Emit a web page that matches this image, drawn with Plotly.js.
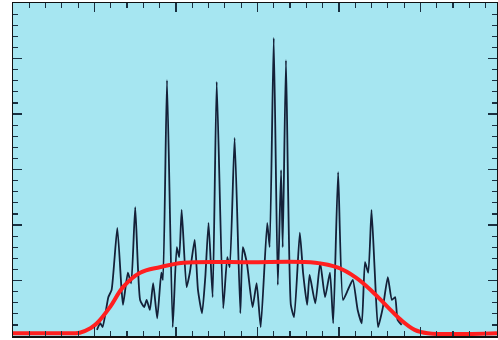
<!DOCTYPE html>
<html>
<head>
<meta charset="utf-8">
<script src="https://cdn.plot.ly/plotly-3.0.1.min.js"></script>
<style>html,body{margin:0;padding:0;background:#fff;}#chart{width:498px;height:340px;}</style>
</head>
<body>
<div id="chart"></div>
<script>
// Noisy signal (black)
var signalX = [1.03,1.07,1.10,1.17,1.21,1.28,1.33,1.35,1.41,1.45,1.50,1.56,1.61,1.64,1.68,1.72,1.77,1.82,1.84,1.89,1.96,2.01,2.04,2.07,2.13,2.17,2.23,2.27,2.32,2.36,2.40,2.45,2.50,2.58,2.63,2.66,2.72,2.79,2.82,2.87,2.94,2.99,3.04,3.12,3.15,3.20,3.25,3.29,3.31,3.35,3.41,3.45,3.52,3.56,3.61,3.64,3.71,3.77,3.83,3.89,3.93,3.99,4.05,4.11,4.17,4.23,4.28,4.32,4.36,4.40,4.44,4.48,4.54,4.60,4.65,4.69,4.72,4.77];
var signalY = [0.11,0.23,0.16,0.70,0.83,1.95,0.88,0.56,1.14,0.95,2.32,0.65,0.52,0.65,0.47,0.95,0.32,1.14,1.01,4.61,0.16,1.60,1.42,2.27,0.88,1.14,1.73,0.83,0.41,1.06,2.04,0.70,4.58,0.50,1.42,1.24,3.57,0.41,1.60,1.32,0.52,0.95,0.16,2.04,1.60,5.37,0.92,2.99,1.60,4.97,0.56,0.34,1.86,1.14,0.56,1.10,0.59,1.32,0.70,1.14,0.23,2.95,0.65,0.83,1.01,0.47,0.23,1.33,1.14,2.27,1.15,0.16,0.52,1.06,0.65,0.70,0.29,0.20];
// Smooth envelope (red)
var envX = [0,0.58,0.82,0.95,1.03,1.19,1.35,1.56,1.80,2.09,2.91,3.71,3.99,4.20,4.39,4.60,4.76,4.93,5.09,5.94];
var envY = [0.05,0.05,0.06,0.14,0.23,0.52,0.88,1.14,1.24,1.32,1.33,1.32,1.23,1.06,0.83,0.52,0.29,0.11,0.05,0.05];

var traces = [
  {x: signalX, y: signalY, type: 'scatter', mode: 'lines',
   line: {color: '#142038', width: 1.8, shape: 'spline', smoothing: 0.5}, hoverinfo: 'skip'},
  {x: envX, y: envY, type: 'scatter', mode: 'lines',
   line: {color: '#ff1f1f', width: 4, shape: 'spline', smoothing: 1}, hoverinfo: 'skip'}
];

var axisCommon = {
  showline: true, linecolor: '#111', linewidth: 1.5, mirror: 'allticks',
  ticks: 'inside', ticklen: 9, tickwidth: 1.5, tickcolor: '#1a3040',
  showticklabels: false, showgrid: false, zeroline: false, dtick: 1, tick0: 0,
  minor: {ticks: 'inside', ticklen: 5, tickwidth: 1.2, tickcolor: '#1a3040', dtick: 0.2, showgrid: false}
};

var layout = {
  width: 498, height: 340,
  margin: {l: 13, r: 1, t: 3, b: 4},
  paper_bgcolor: '#ffffff',
  plot_bgcolor: '#a6e6f1',
  showlegend: false,
  xaxis: Object.assign({}, axisCommon, {range: [0, 5.94]}),
  yaxis: Object.assign({}, axisCommon, {range: [0, 6]})
};

Plotly.newPlot('chart', traces, layout, {staticPlot: true, displayModeBar: false});
</script>
</body>
</html>
